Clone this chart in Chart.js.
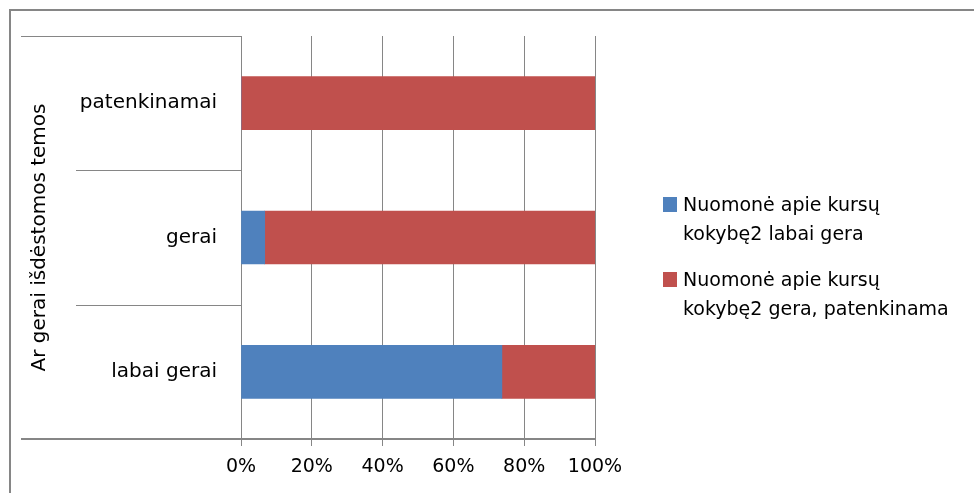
<!DOCTYPE html>
<html>
<head>
<meta charset="utf-8">
<script src="https://cdn.jsdelivr.net/npm/chart.js@4/dist/chart.umd.min.js"></script>
<style>
  body { margin: 0; background: #fff; }
  #wrap { position: relative; width: 974px; height: 493px; }
  .leg { position: absolute; left: 683px; font-family: "DejaVu Sans", sans-serif; font-size: 19px; line-height: 29px; color: #000; }
  .sw { position: absolute; left: -20px; top: 7px; width: 14px; height: 15px; }
</style>
</head>
<body>
<div id="wrap">
  <canvas id="grafico" width="974" height="493"></canvas>
  <div class="leg" style="top:190px"><span class="sw" style="background:#4F81BD"></span>Nuomonė apie kursų<br>kokybę2 labai gera</div>
  <div class="leg" style="top:265px"><span class="sw" style="background:#C0504D"></span>Nuomonė apie kursų<br>kokybę2 gera, patenkinama</div>
</div>
<script>
const kategorijos = ['patenkinamai', 'gerai', 'labai gerai'];
const labaiGera = [0, 6.7, 73.7];
const geraPatenkinama = [100, 93.3, 26.3];
const xTicks = [0, 20, 40, 60, 80, 100];
const pilka = '#868686';

// Rėmelis ir kategorijų skirtukai
const remelis = {
    id: 'remelis',
    beforeDraw(chart) {
        const ctx = chart.ctx;
        ctx.save();
        ctx.fillStyle = '#fff';
        ctx.fillRect(0, 0, chart.width, chart.height);
        ctx.strokeStyle = pilka;
        ctx.lineWidth = 2;
        ctx.strokeRect(10, 10, 1200, 1200);
        ctx.restore();
    },
    afterDraw(chart) {
        const ctx = chart.ctx;
        const y = chart.scales.y;
        const area = chart.chartArea;
        ctx.save();
        ctx.strokeStyle = pilka;
        ctx.lineWidth = 1;
        ctx.beginPath();
        ctx.moveTo(21, Math.round(area.top) + 0.5);
        ctx.lineTo(area.left, Math.round(area.top) + 0.5);
        for (let i = 0; i < kategorijos.length - 1; i++) {
            const yy = Math.round((y.getPixelForValue(i) + y.getPixelForValue(i + 1)) / 2) + 0.5;
            ctx.moveTo(76, yy);
            ctx.lineTo(area.left, yy);
        }
        ctx.stroke();
        ctx.lineWidth = 2;
        ctx.beginPath();
        ctx.moveTo(21, area.bottom);
        ctx.lineTo(area.left, area.bottom);
        ctx.stroke();
        ctx.restore();
    }
};

const ctx = document.getElementById('grafico').getContext('2d');
new Chart(ctx, {
    type: 'bar',
    data: {
        labels: kategorijos,
        datasets: [{
            label: 'Nuomonė apie kursų kokybę2 labai gera',
            data: labaiGera,
            backgroundColor: '#4F81BD'
        }, {
            label: 'Nuomonė apie kursų kokybę2 gera, patenkinama',
            data: geraPatenkinama,
            backgroundColor: '#C0504D'
        }]
    },
    options: {
        indexAxis: 'y',
        responsive: false,
        animation: false,
        events: [],
        layout: { padding: { left: 0, right: 379, top: 35, bottom: 0 } },
        datasets: { bar: { barThickness: 53 } },
        plugins: { legend: { display: false }, tooltip: { enabled: false } },
        scales: {
            x: {
                stacked: true,
                min: 0,
                max: 100,
                afterBuildTicks: s => { s.ticks = xTicks.map(v => ({ value: v })); },
                afterFit: s => { s.height = 54; },
                grid: { color: pilka, lineWidth: 1, tickLength: 7, tickColor: pilka },
                border: { color: pilka, width: 2 },
                ticks: {
                    padding: 10,
                    color: '#000',
                    font: { family: 'DejaVu Sans', size: 19 },
                    callback: v => v + '%'
                }
            },
            y: {
                stacked: true,
                afterFit: s => { s.width = 241; },
                grid: { display: false, drawTicks: false },
                border: { color: pilka, width: 1 },
                ticks: {
                    padding: 24,
                    color: '#000',
                    font: { family: 'DejaVu Sans', size: 20 }
                },
                title: {
                    display: true,
                    text: 'Ar gerai išdėstomos temos',
                    color: '#000',
                    font: { family: 'DejaVu Sans', size: 20 },
                    padding: { top: 28, bottom: 0 }
                }
            }
        }
    },
    plugins: [remelis]
});
</script>
</body>
</html>
